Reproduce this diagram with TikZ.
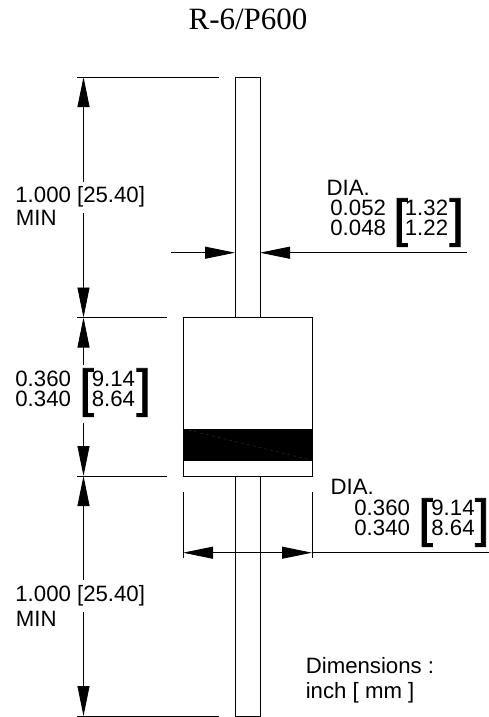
\documentclass[tikz,border=0pt]{standalone}
\usepackage{fontspec}
\setmainfont{Liberation Sans}
\newfontfamily\titlefont{Liberation Serif}
\newfontfamily\bracketfont[FakeBold=1.5]{Liberation Sans}
\usetikzlibrary{arrows.meta}

\begin{document}
\begin{tikzpicture}[x=1pt,y=-1pt,>={Triangle[length=30pt,width=12pt]},line width=0.8pt]
  \tikzstyle{part}=[rectangle,draw=black,fill=white,inner sep=0pt]
  \tikzstyle{ext line}=[draw=black]
  \tikzstyle{dim line}=[draw=black]
  \tikzstyle{label}=[anchor=base west,inner sep=0pt,font=\fontsize{22.2}{22.2}\selectfont]
  \tikzstyle{bracket}=[anchor=base west,inner sep=0pt,font=\bracketfont\fontsize{52}{52}\selectfont]
  \useasboundingbox (0,0) rectangle (489,717);

  % parts
  \node [part,minimum width=25pt,minimum height=240pt] (leadtop) at (247.5,197) {};
  \node [part,minimum width=25pt,minimum height=240pt] (leadbot) at (247.5,596) {};
  \node [part,minimum width=129pt,minimum height=159pt] (body) at (247.5,396.5) {};
  \node [part,fill=black,minimum width=129pt,minimum height=31pt] (band) at (247.5,444.5) {};
  \coordinate (bandtl) at (band.north west);
  \coordinate (bandbr) at (band.south east);
  \draw [black!70,line width=0.2pt,dashed] (bandtl) -- (bandbr);

  % extension lines
  \coordinate (e1l) at (77,77);     \coordinate (e1r) at (219,77);
  \coordinate (e2l) at (77,317.5);  \coordinate (e2r) at (167,317.5);
  \coordinate (e3l) at (77,476);    \coordinate (e3r) at (167,476);
  \coordinate (e4l) at (77,716);    \coordinate (e4r) at (219,716);
  \draw [ext line] (e1l) -- (e1r);
  \draw [ext line] (e2l) -- (e2r);
  \draw [ext line] (e3l) -- (e3r);
  \draw [ext line] (e4l) -- (e4r);
  \coordinate (e5t) at (183,492);   \coordinate (e5b) at (183,558);
  \coordinate (e6t) at (312,492);   \coordinate (e6b) at (312,558);
  \draw [ext line] (e5t) -- (e5b);
  \draw [ext line] (e6t) -- (e6b);

  % vertical dimensions
  \coordinate (v1a) at (83.5,77);   \coordinate (v1b) at (83.5,182);
  \coordinate (v2a) at (83.5,317.5);\coordinate (v2b) at (83.5,213);
  \coordinate (v3a) at (83.5,317.5);\coordinate (v3b) at (83.5,365);
  \coordinate (v4a) at (83.5,476);  \coordinate (v4b) at (83.5,423);
  \coordinate (v5a) at (83.5,476);  \coordinate (v5b) at (83.5,580);
  \coordinate (v6a) at (83.5,716);  \coordinate (v6b) at (83.5,612);
  \foreach \n in {1,...,6}
    \draw [dim line,<-] (v\n a) -- (v\n b);

  % horizontal dimensions
  \coordinate (h1a) at (235,252.7); \coordinate (h1b) at (171,252.7);
  \coordinate (h2a) at (260,252.7); \coordinate (h2b) at (467,252.7);
  \coordinate (h3a) at (183,552.7); \coordinate (h3b) at (312,552.7);
  \coordinate (h4) at (489,552.7);
  \draw [dim line,<-] (h1a) -- (h1b);
  \draw [dim line,<-] (h2a) -- (h2b);
  \draw [dim line,<->] (h3a) -- (h3b);
  \draw [dim line] (h3b) -- (h4);

  % texts
  \node [anchor=base,inner sep=0pt,font=\titlefont\fontsize{31}{31}\selectfont] (title) at (248,30) {R-6/P600};
  \node [label] (lenA) at (15,202.7) {1.000 [25.40]};
  \node [label] (minA) at (15.5,225.7) {MIN};
  \node [label] (lenB) at (15,601) {1.000 [25.40]};
  \node [label] (minB) at (15.5,626.7) {MIN};

  \node [label] (bodyhi) at (15,386) {0.360};
  \node [label] (bodylo) at (15,406) {0.340};
  \node [bracket] (bodyopen) at (79,406) {[};
  \node [label] (bodymmhi) at (91.4,386) {9.14};
  \node [label] (bodymmlo) at (91.4,406) {8.64};
  \node [bracket] (bodyclose) at (136,406) {]};

  \node [label] (diaA) at (326.3,195) {DIA.};
  \node [label] (leadhi) at (330,215) {0.052};
  \node [label] (leadlo) at (330,235) {0.048};
  \node [bracket] (leadopen) at (393,236) {[};
  \node [label] (leadmmhi) at (404.5,215) {1.32};
  \node [label] (leadmmlo) at (404.5,235) {1.22};
  \node [bracket] (leadclose) at (449,236) {]};

  \node [label] (diaB) at (330.3,494) {DIA.};
  \node [label] (dbodyhi) at (354,515) {0.360};
  \node [label] (dbodylo) at (354,535) {0.340};
  \node [bracket] (dbodyopen) at (418,536) {[};
  \node [label] (dbodymmhi) at (431,515) {9.14};
  \node [label] (dbodymmlo) at (431,535) {8.64};
  \node [bracket] (dbodyclose) at (474.5,536) {]};

  \node [label] (dimtext) at (305.4,673) {Dimensions :};
  \node [label] (unittext) at (305.4,698) {inch [ mm ]};
\end{tikzpicture}
\end{document}
